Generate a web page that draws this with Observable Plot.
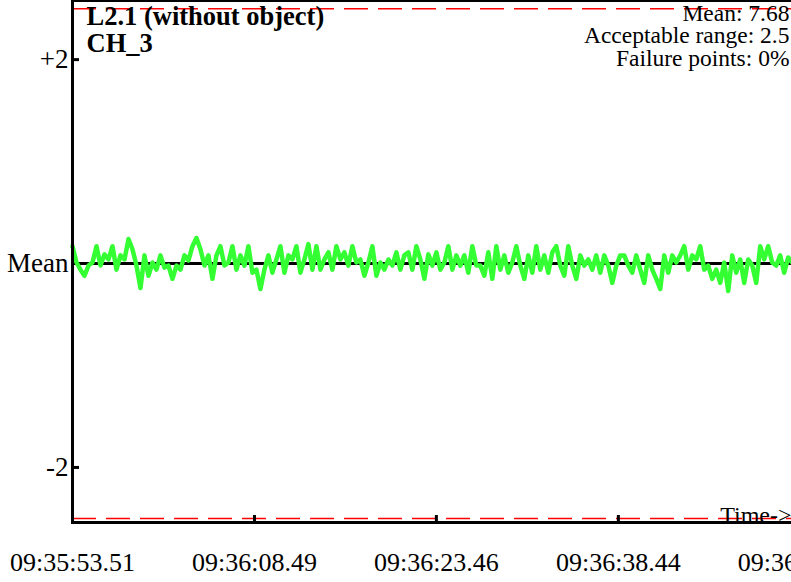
<!DOCTYPE html>
<html><head><meta charset="utf-8">
<script src="https://cdn.jsdelivr.net/npm/d3@7"></script>
<script src="https://cdn.jsdelivr.net/npm/@observablehq/plot@0.6"></script>
<style>
html,body{margin:0;padding:0;overflow:hidden;background:#fff;}
#chart svg{max-width:none !important;}
</style></head><body><div id="chart"></div>
<script>
const titleLines = ["L2.1 (without object)", "CH_3"];
const statLines = ["Mean: 7.68", "Acceptable range: 2.5", "Failure points: 0%"];
const acceptableRange = 2.5;
const yTicks = [2, 0, -2];
const yTickLabels = ["+2", "Mean", "-2"];
const xTickSeconds = [0, 14.98, 29.95, 44.93, 59.90];
const xTickLabels = ["09:35:53.51", "09:36:08.49", "09:36:23.46", "09:36:38.44", "09:36:53.42"];
const axisTitle = "Time->";
const sampleInterval = 0.3291; // seconds between samples
const deviations = [
  0.17,0.01,-0.06,-0.12,-0.02,0.01,0.17,-0.02,0.09,0.04,0.17,-0.06,0.08,0.04,0.24,0.14,-0.02,-0.24,0.08,-0.12,0.01,-0.06,0.08,-0.04,-0.02,-0.15,-0.02,-0.06,0.08,0.03,0.17,0.25,0.14,-0.02,0.08,-0.15,
  0.08,0.17,-0.02,0.01,0.17,-0.06,0.08,-0.02,0.17,-0.09,-0.06,-0.25,-0.06,0.08,-0.09,0.04,0.17,-0.09,0.08,0.04,0.17,-0.09,0.04,0.19,-0.06,0.17,-0.06,0.04,0.11,-0.06,0.17,0.04,0.11,-0.02,0.17,0.01,
  0.04,-0.12,0.01,0.17,-0.12,0.01,-0.06,0.04,-0.02,0.11,-0.06,0.08,0.11,-0.06,0.17,0.04,-0.15,0.09,-0.02,0.11,-0.06,0.01,0.17,-0.06,0.08,-0.02,0.08,-0.09,0.17,-0.02,-0.02,-0.12,0.11,-0.15,0.17,-0.06,
  0.08,-0.09,0.01,0.17,-0.02,-0.15,0.08,-0.09,0.17,-0.06,0.08,-0.09,0.11,0.17,-0.02,-0.12,0.17,-0.02,-0.15,0.08,-0.02,0.04,-0.06,0.08,-0.09,0.08,-0.02,-0.19,-0.02,0.08,0.08,-0.02,-0.09,0.08,-0.06,-0.19,
  0.08,-0.06,-0.15,-0.25,0.08,-0.09,0.08,0.01,0.08,0.17,-0.06,0.08,0.04,0.17,-0.06,-0.02,-0.15,-0.06,-0.19,0.01,-0.27,0.08,-0.09,0.04,-0.19,0.04,-0.02,-0.19,0.17,0.04,0.17,0.01,-0.02,0.08,-0.09,0.06,0.01
];
const data = deviations.map((v, i) => ({t: i * sampleInterval, v}));

const chart = Plot.plot({
  width: 830, height: 582,
  marginLeft: 72, marginRight: 0, marginTop: 0, marginBottom: 60,
  style: {fontFamily: "'Liberation Serif', 'Times New Roman', serif", fontSize: "23px", color: "black", background: "white", overflow: "visible", maxWidth: "none"},
  x: {domain: [0, 62.39], label: null},
  y: {domain: [-2.54, 2.58], label: null},
  marks: [
    Plot.ruleY([-acceptableRange, acceptableRange], {stroke: "red", strokeWidth: 1.5, strokeDasharray: "24,10"}),
    Plot.ruleY([0], {stroke: "black", strokeWidth: 3}),
    Plot.line(data, {x: "t", y: "v", stroke: "#33ff33", strokeWidth: 4.5}),
    Plot.frame({anchor: "left", strokeWidth: 3}),
    Plot.frame({anchor: "bottom", strokeWidth: 3}),
    Plot.frame({anchor: "top", strokeWidth: 3}),
    Plot.axisY({ticks: yTicks, tickSize: 0, tickPadding: 4, label: null, fontSize: 27, tickFormat: d => yTickLabels[yTicks.indexOf(d)]}),
    Plot.axisY({ticks: [2, -2], tickSize: -7, tickPadding: 0, label: null, strokeWidth: 3, tickFormat: () => ""}),
    Plot.axisX({ticks: xTickSeconds, tickSize: 0, tickPadding: 30, label: null, fontSize: 26, tickFormat: d => xTickLabels[xTickSeconds.indexOf(d)]}),
    Plot.axisX({ticks: xTickSeconds.slice(1), tickSize: -7, tickPadding: 0, label: null, strokeWidth: 3, tickFormat: () => ""}),
    Plot.text([titleLines.join("\n")], {frameAnchor: "top-left", dx: 14, dy: 5, textAnchor: "start", lineAnchor: "top", fontWeight: "bold", fontSize: 26.5, lineHeight: 1.02}),
    Plot.text([statLines.join("\n")], {frameAnchor: "top-right", dx: -41, dy: 4, textAnchor: "end", lineAnchor: "top", fontSize: 23.5, lineHeight: 0.96}),
    Plot.text([axisTitle], {frameAnchor: "bottom-right", dx: -39, dy: 0, textAnchor: "end", lineAnchor: "bottom", fontSize: 24})
  ]
});
document.getElementById("chart").appendChild(chart);
</script></body></html>
